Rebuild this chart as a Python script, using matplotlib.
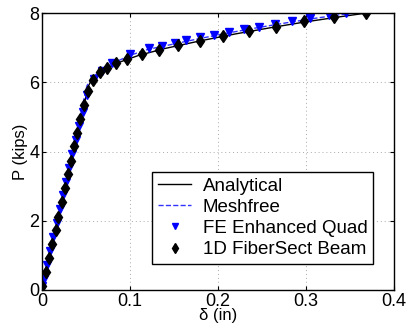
import numpy as np
import matplotlib
matplotlib.use('Agg')
import matplotlib.pyplot as plt

plt.rcParams['font.family'] = ['Liberation Sans', 'DejaVu Sans']

# analytical curve
ana_d = [0, 0.0527, 0.056, 0.060, 0.066, 0.075, 0.09, 0.11, 0.14, 0.18, 0.22, 0.26, 0.30, 0.34, 0.368]
ana_P = [0, 5.9, 6.05, 6.18, 6.3, 6.43, 6.6, 6.78, 6.98, 7.2, 7.4, 7.58, 7.75, 7.9, 8.0]

# meshfree curve
mf_d = [0, 0.051, 0.055, 0.060, 0.066, 0.075, 0.088, 0.10, 0.12, 0.15, 0.18, 0.21, 0.245, 0.28, 0.31, 0.346, 0.368]
mf_P = [0, 5.9, 6.06, 6.2, 6.33, 6.47, 6.64, 6.78, 6.95, 7.11, 7.27, 7.42, 7.58, 7.73, 7.85, 7.98, 8.02]

# FE enhanced quad
fe_d = [0.0005, 0.0026, 0.006, 0.0095, 0.013, 0.0166, 0.020, 0.0237, 0.0272, 0.031, 0.0345, 0.0386,
        0.042, 0.046, 0.051, 0.059, 0.0678, 0.079, 0.100, 0.122, 0.136, 0.151, 0.164, 0.179,
        0.195, 0.212, 0.229, 0.246, 0.265, 0.284, 0.304, 0.326, 0.345]
fe_P = [0.1, 0.32, 0.73, 1.12, 1.53, 1.93, 2.33, 2.73, 3.13, 3.53, 3.93, 4.33,
        4.73, 5.13, 5.62, 6.09, 6.34, 6.57, 6.82, 6.99, 7.05, 7.13, 7.23, 7.30,
        7.37, 7.46, 7.54, 7.61, 7.69, 7.77, 7.85, 7.94, 8.01]

# 1D fibersect beam
fb_d = [0.0, 0.0045, 0.008, 0.0117, 0.0155, 0.0185, 0.0224, 0.026, 0.029, 0.033, 0.036, 0.040,
        0.043, 0.048, 0.052, 0.0576, 0.066, 0.074, 0.084, 0.097, 0.114, 0.133, 0.155, 0.179,
        0.206, 0.235, 0.266, 0.298, 0.332, 0.368]
fb_P = [0.12, 0.53, 0.92, 1.33, 1.73, 2.12, 2.53, 2.94, 3.34, 3.74, 4.16, 4.53,
        4.94, 5.35, 5.76, 6.07, 6.31, 6.41, 6.55, 6.68, 6.81, 6.94, 7.08, 7.20,
        7.35, 7.49, 7.61, 7.76, 7.90, 8.01]

fig = plt.figure(figsize=(4.08, 3.28), dpi=100)
ax = fig.add_axes([0.103, 0.116, 0.863, 0.844])

ax.plot(ana_d, ana_P, 'k-', lw=1.0, label='Analytical')
ax.plot(mf_d, mf_P, '--', color='#3333ff', lw=1.0, label='Meshfree')
ax.plot(fe_d, fe_P, 'v', color='blue', ms=6, ls='none', label='FE Enhanced Quad')
ax.plot(fb_d, fb_P, 'd', color='black', ms=6.5, ls='none', label='1D FiberSect Beam')

ax.set_xlim(0, 0.4)
ax.set_ylim(0, 8)
ax.set_xticks([0, 0.1, 0.2, 0.3, 0.4])
ax.set_xticklabels(['0', '0.1', '0.2', '0.3', '0.4'])
ax.set_yticks([0, 2, 4, 6, 8])
ax.grid(True, ls=(0, (1, 3)), color='#aaaaaa', lw=0.7)
ax.tick_params(direction='in', labelsize=13, length=3, pad=2, top=True, right=True)
for s in ax.spines.values():
    s.set_linewidth(1.0)

ax.set_xlabel('δ (in)', fontsize=12, labelpad=-1)
ax.set_ylabel('P (kips)', fontsize=12, labelpad=1)

leg = ax.legend(loc='lower right', fontsize=13.5, frameon=True, fancybox=False,
                edgecolor='black', framealpha=1, handlelength=1.8, handletextpad=0.6,
                borderpad=0.3, labelspacing=0.22, borderaxespad=0,
                bbox_to_anchor=(0.94, 0.094), markerscale=0.8)
leg.get_frame().set_linewidth(1.0)

fig.savefig('out.png', dpi=100)
